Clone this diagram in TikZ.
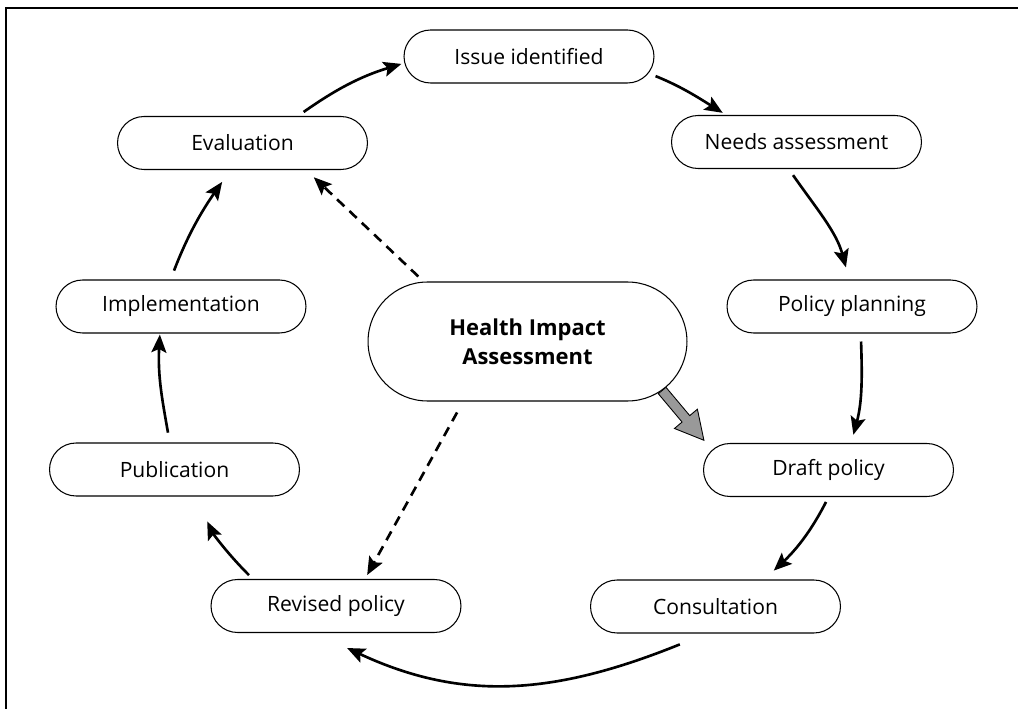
\documentclass[tikz,border=0pt]{standalone}
\usepackage{fontspec}
\setmainfont{Open Sans}
\usetikzlibrary{shapes.misc,arrows.meta,calc}
\begin{document}
\begin{tikzpicture}[x=0.02cm,y=0.02cm,
  stage/.style={rounded rectangle, draw, line width=0.6pt, minimum width=5cm,
    minimum height=1.06cm, inner sep=0pt, font=\fontsize{12}{14}\selectfont},
  hub/.style={rounded rectangle, draw, line width=0.6pt, minimum width=6.38cm,
    minimum height=2.38cm, inner sep=0pt, align=center,
    font=\bfseries\fontsize{12.5}{16.5}\selectfont},
  flow/.style={line width=1.5pt, -{Stealth[length=0.36cm,width=0.3cm,inset=0.07cm]}},
  hint/.style={flow, dash pattern=on 0.2cm off 0.14cm},
  feed/.style={line width=0.5pt, fill=black!40},
]
\useasboundingbox (0,0) rectangle (1018,-709);

% frame
\draw[line width=0.8pt] (6,-709) -- (6,-8) -- (1018,-8);

% stages of the cycle
\node[stage] (issue) at (529,-56.5)   {Issue identified};
\node[stage] (eval)  at (242.5,-143)  {Evaluation};
\node[stage] (needs) at (796.5,-142)  {Needs assessment};
\node[stage] (impl)  at (181,-306.5)  {Implementation};
\node[stage] (plan)  at (852,-306.5)  {Policy planning};
\node[hub]   (hia)   at (527.5,-341.5){Health Impact\\Assessment};
\node[stage] (pub)   at (174.5,-469.5){Publication};
\node[stage] (draft) at (828.5,-470)  {Draft policy};
\node[stage] (rev)   at (336,-606)    {Revised policy};
\node[stage] (cons)  at (715.5,-606.5){Consultation};

% cycle arrows
\draw[flow, shorten <=0.14cm, shorten >=0.06cm] (eval.26)    to[out=35,in=197]   (issue.183);
\draw[flow, shorten <=0.15cm, shorten >=0.08cm] (issue.-8.5) to[out=-22,in=148]  (needs.159);
\draw[flow, shorten <=0.15cm, shorten >=0.25cm] (needs.-106) to[out=-55,in=105]  (plan.96);
\draw[flow, shorten <=0.16cm, shorten >=0.17cm] (plan.-72)   to[out=-88,in=75]   (draft.50);
\draw[flow, shorten <=0.11cm, shorten >=0.26cm] (draft.-90)  to[out=-117,in=43]  (cons.29);
\draw[flow, shorten <=0.58cm, shorten >=0.71cm] (cons.-108)  to[out=202,in=-25,looseness=1.07] (rev.232);
\draw[flow, shorten <=0.11cm, shorten >=0.55cm] (rev.162)    to[out=135,in=-65]  (pub.-52);
\draw[flow, shorten <=0.20cm, shorten >=0.02cm] (pub.100)    to[out=100,in=267]  (impl.232);
\draw[flow, shorten <=0.19cm, shorten >=0.29cm] (impl.111)   to[out=69,in=235]   (eval.-114);

% dashed links from the assessment
\draw[hint, shorten <=0.15cm, shorten >=0.21cm] (hia.150) -- (eval.-23.5);
\draw[hint, shorten <=0.25cm, shorten >=0.09cm] (hia.223) -- (rev.43);

% grey arrow into the draft policy
\begin{scope}[shift={(hia.-20)}, rotate=-50]
  \draw[feed] (0,-5) -- (37,-5) -- (37,-15) -- (65,0) -- (37,15) -- (37,5) -- (0,5) -- cycle;
\end{scope}
\end{tikzpicture}
\end{document}
